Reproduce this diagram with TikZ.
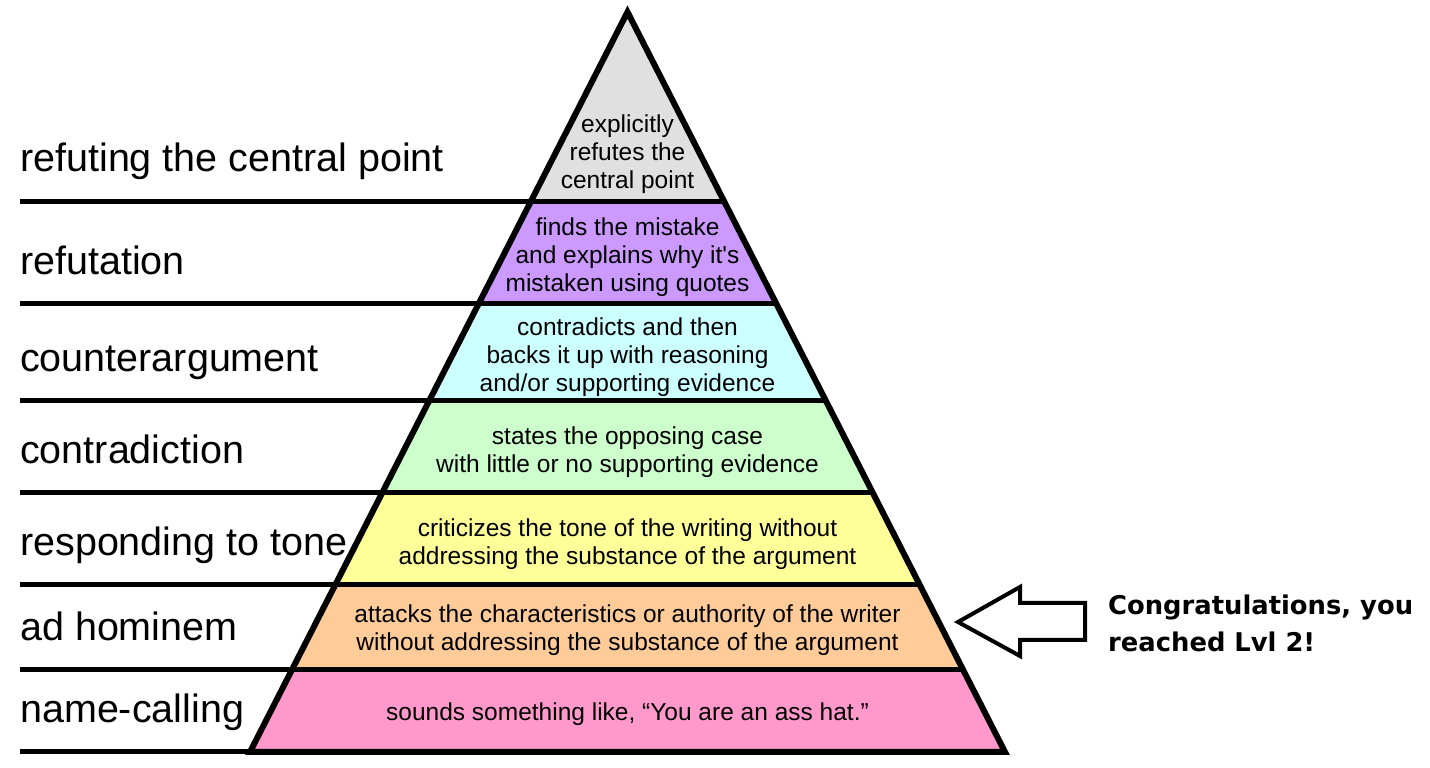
\documentclass[tikz,border=0pt]{standalone}
\usepackage{fontspec}
\setmainfont{Liberation Sans}
\newfontfamily\Felicitations{DejaVu Sans}
\usepackage{tikz}
\usepackage{xcolor}
\definecolor{Gris}{HTML}{E0E0E0}
\definecolor{Violet}{HTML}{CC99FF}
\definecolor{Cyan}{HTML}{CCFFFF}
\definecolor{Vert}{HTML}{CCFFCC}
\definecolor{Jaune}{HTML}{FFFF99}
\definecolor{Orange}{HTML}{FFCC99}
\definecolor{Rose}{HTML}{FF99CC}
\tikzset{
Niveau/.style={
 fill=#1, 
 draw=none
 },
Trait/.style={
 draw=black, 
 line width=5pt
 },
Contour/.style={
 draw=black, 
 line width=6pt, 
 line join=miter
 },
Etiquette/.style={
 anchor=base west, 
 inner sep=0pt, 
 font=\fontsize{39.5}{47}\selectfont
 },
Texte/.style={
 align=center, 
 inner sep=0pt, 
 font=\fontsize{24.5}{28}\selectfont
 },
Bravo/.style={
 anchor=base west, 
 inner sep=0pt, 
 font=\Felicitations\bfseries\fontsize{25.8}{37}\selectfont
 }
}
\begin{document}
\begin{tikzpicture}[x=1pt,y=1pt]
\useasboundingbox (0,0) rectangle (1430,768);
\fill[Niveau=Gris] (627.5,756) -- (724.4,566) -- (530.6,566) -- cycle;
\fill[Niveau=Violet] (530.6,566) -- (724.4,566) -- (776.45,464) -- (478.55,464) -- cycle;
\fill[Niveau=Cyan] (478.55,464) -- (776.45,464) -- (825.9,367) -- (429.1,367) -- cycle;
\fill[Niveau=Vert] (429.1,367) -- (825.9,367) -- (872.9,275) -- (382.1,275) -- cycle;
\fill[Niveau=Jaune] (382.1,275) -- (872.9,275) -- (919.8,183) -- (335.2,183) -- cycle;
\fill[Niveau=Orange] (335.2,183) -- (919.8,183) -- (963.1,98) -- (291.9,98) -- cycle;
\fill[Niveau=Rose] (291.9,98) -- (963.1,98) -- (1005,16) -- (250,16) -- cycle;
\draw[Trait] (20,566) -- (724.4,566);
\draw[Trait] (20,464) -- (776.45,464);
\draw[Trait] (20,367) -- (825.9,367);
\draw[Trait] (20,275) -- (872.9,275);
\draw[Trait] (20,183) -- (919.8,183);
\draw[Trait] (20,98) -- (963.1,98);
\draw[Trait] (20,16) -- (1005,16);
\draw[Contour] (627.5,756) -- (1005,16) -- (250,16) -- cycle;
\node[Etiquette] (EtiqRefutPoint) at (20,596) {refuting the central point};
\node[Etiquette] (EtiqRefutation) at (20,493) {refutation};
\node[Etiquette] (EtiqContreArg) at (20,396) {counterargument};
\node[Etiquette] (EtiqContradiction) at (20,304) {contradiction};
\node[Etiquette] (EtiqTon) at (20,212) {responding to tone};
\node[Etiquette] (EtiqAdHominem) at (20,127) {ad hominem};
\node[Etiquette] (EtiqInsulte) at (20,45) {name-calling};
\node[Texte] (TexteRefutPoint) at (627.5,614) {explicitly\\refutes the\\central point};
\node[Texte] (TexteRefutation) at (627.5,511) {finds the mistake\\and explains why it\textquotesingle s\\mistaken using quotes};
\node[Texte] (TexteContreArg) at (627.5,411) {contradicts and then\\backs it up with reasoning\\and/or supporting evidence};
\node[Texte] (TexteContradiction) at (627.5,316) {states the opposing case\\with little or no supporting evidence};
\node[Texte] (TexteTon) at (627.5,224) {criticizes the tone of the writing without\\addressing the substance of the argument};
\node[Texte] (TexteAdHominem) at (627.5,137.5) {attacks the characteristics or authority of the writer\\without addressing the substance of the argument};
\node[Texte] (TexteInsulte) at (627.5,54) {sounds something like, “You are an ass hat.”};
\draw[draw=black, line width=4pt, line join=miter] (958,146) -- (1020,181) -- (1020,165) -- (1085,165) -- (1085,128) -- (1020,128) -- (1020,112) -- cycle;
\node[Bravo] (Bravo1) at (1108,153) {Congratulations, you};
\node[Bravo] (Bravo2) at (1108,116) {reached Lvl 2!};
\end{tikzpicture}
\end{document}
